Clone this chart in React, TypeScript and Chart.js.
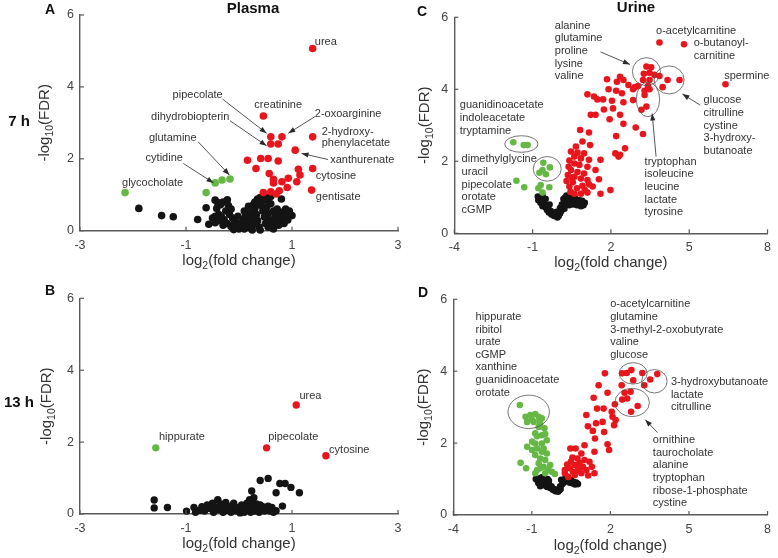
import React, { useEffect, useRef } from "react";
import { Chart, registerables } from "chart.js";
Chart.register(...registerables);

const FONT = '"Liberation Sans", Arial, Helvetica, sans-serif';
const RED = "#e8161c";
const GREEN = "#66b845";
const BLACK = "#141414";
const AXIS = "#5a5a5a";
const TEXT = "#333333";

// ---------- tick labels ----------
const plasmaXTicks = [-3, -1, 1, 3];
const urineXTicks = [-4, -1, 2, 5, 8];
const yTicks = [0, 2, 4, 6];

// ---------- data: [log2 fold change, -log10 FDR] ----------
const plasma7hUp: [number, number][] = [
  [1.39, 5.07], [0.46, 3.19], [0.60, 2.61], [0.81, 2.61], [0.60, 2.41], [0.74, 2.41],
  [1.39, 2.61], [1.06, 2.24], [0.16, 1.96], [0.41, 2.01], [0.55, 2.01], [0.74, 1.94],
  [0.32, 1.73], [0.57, 1.59], [1.12, 1.71], [1.15, 1.55], [1.39, 1.73], [0.65, 1.43],
  [0.81, 1.36], [0.93, 1.46], [0.65, 1.33], [1.09, 1.36], [0.91, 1.20], [0.76, 1.11],
  [0.60, 1.08], [0.46, 1.06], [1.37, 1.13], [0.70, 1.02],
];
const plasma7hDown: [number, number][] = [
  [-2.15, 1.06], [-0.62, 1.06], [-0.45, 1.33], [-0.32, 1.41], [-0.17, 1.44],
];
const plasma7hNs: [number, number][] = [
  [-1.89, 0.62], [-1.46, 0.42], [-1.24, 0.39], [-0.78, 0.31], [-0.62, 0.64], [-0.57, 0.18],
  [-0.45, 0.85], [-0.40, 0.78], [-0.42, 0.62], [-0.35, 0.72], [-0.30, 0.80], [-0.22, 0.86],
  [-0.20, 0.70], [-0.25, 0.55], [-0.38, 0.45], [-0.45, 0.40], [-0.50, 0.35], [-0.33, 0.38],
  [-0.28, 0.30], [-0.40, 0.28], [-0.18, 0.45], [-0.15, 0.60], [-0.12, 0.35], [-0.22, 0.20],
  [-0.30, 0.15], [-0.45, 0.22], [-0.15, 0.12], [-0.08, 0.25], [-0.05, 0.08], [-0.10, 0.03],
  [0.00, 0.05], [0.05, 0.12], [0.02, 0.20], [0.08, 0.30], [0.10, 0.05], [0.15, 0.15],
  [0.12, 0.40], [0.18, 0.25], [0.20, 0.08], [0.22, 0.50], [0.25, 0.35], [0.28, 0.18],
  [0.30, 0.62], [0.33, 0.45], [0.35, 0.28], [0.38, 0.10], [0.30, 0.80], [0.35, 0.88],
  [0.40, 0.92], [0.42, 0.70], [0.45, 0.55], [0.48, 0.38], [0.50, 0.20], [0.45, 0.95],
  [0.50, 0.85], [0.52, 0.65], [0.55, 0.48], [0.58, 0.30], [0.55, 0.92], [0.60, 0.75],
  [0.62, 0.15], [0.65, 0.55], [0.68, 0.40], [0.70, 0.25], [0.72, 0.60], [0.75, 0.45],
  [0.78, 0.30], [0.80, 0.88], [0.82, 0.52], [0.85, 0.38], [0.88, 0.60], [0.90, 0.45],
  [0.95, 0.55], [1.00, 0.42], [0.92, 0.30], [0.85, 0.20], [0.75, 0.15], [0.65, 0.05],
  [0.55, 0.10], [0.40, 0.02], [0.25, 0.02], [0.10, 0.55], [-0.02, 0.40], [0.18, 0.68],
  [0.27, 0.72], [0.38, 0.78], [0.60, 0.95],
];

const plasma13hUp: [number, number][] = [[1.08, 3.03], [0.52, 1.84], [1.64, 1.62]];
const plasma13hDown: [number, number][] = [[-1.57, 1.84]];
const plasma13hNs: [number, number][] = [
  [-1.60, 0.39], [-1.60, 0.17], [-1.35, 0.18], [-0.99, 0.08],
  [-0.85, 0.18], [-0.82, 0.05], [-0.75, 0.10], [-0.70, 0.20], [-0.65, 0.08], [-0.60, 0.25],
  [-0.55, 0.15], [-0.50, 0.30], [-0.48, 0.05], [-0.45, 0.20], [-0.40, 0.40], [-0.38, 0.12],
  [-0.35, 0.28], [-0.30, 0.05], [-0.28, 0.18], [-0.25, 0.32], [-0.22, 0.10], [-0.20, 0.22],
  [-0.15, 0.05], [-0.12, 0.15], [-0.10, 0.30], [-0.05, 0.08], [0.00, 0.18], [0.02, 0.03],
  [0.05, 0.25], [0.08, 0.10], [0.10, 0.05], [0.12, 0.20], [0.15, 0.30], [0.18, 0.12],
  [0.20, 0.40], [0.22, 0.05], [0.25, 0.22], [0.28, 0.15], [0.30, 0.08], [0.33, 0.28],
  [0.35, 0.18], [0.38, 0.05], [0.40, 0.25], [0.42, 0.12], [0.45, 0.20], [0.48, 0.08],
  [0.50, 0.15], [0.55, 0.22], [0.58, 0.08], [0.62, 0.18], [0.65, 0.05], [0.28, 0.45],
  [0.24, 0.64], [0.22, 0.35],
  [0.40, 0.93], [0.55, 0.99], [0.70, 0.59], [0.77, 0.85], [0.87, 0.85], [0.98, 0.74],
  [1.14, 0.59], [0.82, 0.22], [0.70, 0.09],
];

const urine7hUp: [number, number][] = [
  [3.86, 5.30], [4.80, 5.25], [6.39, 4.14], [3.36, 4.63], [3.54, 4.61], [3.48, 4.46],
  [3.26, 4.43], [3.67, 4.40], [3.86, 4.37], [3.23, 4.26], [3.48, 4.26], [4.17, 4.26],
  [4.63, 4.26], [3.98, 4.06], [3.42, 4.09], [3.29, 3.96], [3.48, 4.00], [3.29, 3.84],
  [3.36, 3.52], [3.17, 3.43], [1.85, 4.28], [2.35, 4.35], [2.48, 4.26], [2.23, 4.21],
  [2.67, 4.12], [2.92, 4.06], [3.04, 4.09], [2.85, 4.00], [1.91, 4.00], [2.20, 3.96],
  [2.42, 3.89], [1.10, 3.86], [1.35, 3.80], [1.48, 3.72], [1.70, 3.72], [2.04, 3.68],
  [2.85, 3.70], [2.48, 3.64], [1.73, 3.44], [2.08, 3.47], [2.35, 3.29], [1.23, 3.29],
  [1.41, 3.29], [1.95, 3.17], [2.48, 3.04], [2.95, 2.94], [3.23, 2.76], [2.20, 2.70],
  [2.54, 2.36], [2.17, 2.22], [2.35, 2.18], [2.29, 2.13],
  [0.82, 2.87], [1.16, 2.80], [0.91, 2.55], [0.66, 2.41], [1.20, 2.45], [0.47, 2.27],
  [0.72, 2.24], [0.97, 2.22], [0.60, 2.13], [0.85, 2.08], [1.16, 2.04], [1.60, 2.04],
  [0.41, 2.02], [0.60, 1.94], [0.79, 1.90], [1.10, 1.85], [1.41, 1.76], [0.47, 1.76],
  [0.72, 1.70], [0.97, 1.66], [0.35, 1.62], [0.60, 1.57], [0.85, 1.52], [1.10, 1.48],
  [1.54, 1.50], [1.98, 1.20], [1.60, 1.10], [1.10, 1.13], [0.85, 1.10], [0.60, 1.10],
  [0.41, 1.30], [0.54, 1.42], [0.91, 1.32], [1.16, 1.36], [0.30, 1.45], [0.45, 1.15],
  [0.70, 1.25], [1.00, 1.20], [1.30, 1.30], [0.38, 1.85], [0.50, 1.55],
];
const urine7hDown: [number, number][] = [
  [-1.74, 2.53], [-1.34, 2.45], [-1.19, 2.45], [-0.59, 1.96], [-0.34, 1.83], [-0.62, 1.76],
  [-0.74, 1.68], [-0.49, 1.64], [-1.62, 1.46], [-1.32, 1.28], [-0.69, 1.34], [-0.36, 1.28],
  [-0.78, 1.25], [-0.62, 1.13],
];
const urine7hNs: [number, number][] = [
  [-0.80, 1.02], [-0.72, 1.00], [-0.78, 0.92], [-0.65, 0.95], [-0.70, 0.85], [-0.60, 0.88],
  [-0.55, 0.80], [-0.62, 0.75], [-0.50, 0.72], [-0.45, 0.65], [-0.40, 0.70], [-0.38, 0.58],
  [-0.30, 0.62], [-0.28, 0.52], [-0.20, 0.55], [-0.18, 0.48], [-0.10, 0.50], [-0.05, 0.44],
  [0.00, 0.48], [-0.08, 0.60], [-0.35, 0.80], [-0.50, 0.95], [-0.62, 1.05],
  [0.05, 0.55], [0.10, 0.62], [0.05, 0.70], [0.15, 0.72], [0.12, 0.80], [0.20, 0.85],
  [0.18, 0.95], [0.25, 1.00], [0.30, 0.92], [0.35, 1.02], [0.40, 0.95], [0.28, 0.80],
  [0.35, 0.85], [0.45, 0.88], [0.50, 1.00], [0.55, 0.92], [0.60, 0.85], [0.65, 0.95],
  [0.70, 0.88], [0.75, 0.82], [0.80, 0.92], [0.85, 0.85], [0.90, 0.90], [0.95, 0.78],
  [1.00, 0.85], [0.22, 0.68], [0.40, 0.78], [0.55, 0.80], [0.70, 0.78], [0.85, 0.75],
  [0.30, 1.05], [0.60, 1.03],
];

const urine13hUp: [number, number][] = [
  [2.80, 4.03], [2.62, 3.95], [2.45, 3.94], [3.22, 3.95], [2.87, 3.75], [3.52, 3.77],
  [3.79, 3.92], [3.29, 3.61], [2.43, 3.61], [1.79, 3.94], [1.55, 3.61], [1.89, 3.40],
  [1.36, 3.26], [2.17, 3.08], [2.54, 3.40], [2.77, 3.43], [2.64, 3.24], [2.45, 3.21],
  [3.04, 3.03], [2.79, 2.87], [1.49, 2.96], [1.74, 2.96], [2.05, 2.87], [2.08, 2.73],
  [1.08, 2.78], [2.14, 2.50], [2.20, 2.64], [1.14, 2.47], [1.45, 2.55], [1.70, 2.59],
  [1.33, 2.34], [1.76, 2.31], [1.41, 2.13], [1.01, 1.94], [1.89, 1.97], [1.95, 1.81],
  [0.47, 1.85], [0.67, 1.85], [1.39, 1.76], [0.89, 1.71],
  [0.74, 1.57], [1.01, 1.53], [1.20, 1.48], [0.49, 1.48], [0.64, 1.39], [0.82, 1.45],
  [0.95, 1.34], [1.29, 1.34], [0.26, 1.25], [0.45, 1.30], [0.26, 1.16], [0.57, 1.20],
  [0.76, 1.25], [1.08, 1.25], [1.39, 1.16], [0.39, 1.06], [0.64, 1.11], [0.89, 1.16],
  [0.55, 1.60], [0.35, 1.40], [0.80, 1.30], [1.15, 1.10],
];
const urine13hDown: [number, number][] = [
  [-1.46, 3.06], [-1.24, 2.73], [-1.06, 2.78], [-0.87, 2.81], [-0.74, 2.73], [-0.62, 2.69],
  [-1.18, 2.59], [-0.93, 2.59], [-0.68, 2.55], [-0.52, 2.41], [-0.49, 2.25], [-0.80, 2.19],
  [-0.62, 2.22], [-0.43, 2.08], [-0.99, 2.04], [-0.87, 1.99], [-0.62, 1.99], [-1.18, 1.90],
  [-0.99, 1.81], [-0.80, 1.85], [-0.62, 1.76], [-0.43, 1.71], [-0.87, 1.67], [-0.68, 1.57],
  [-0.49, 1.53], [-1.43, 1.45], [-1.22, 1.30], [-0.74, 1.44], [-0.55, 1.34], [-0.37, 1.25],
  [-0.80, 1.25], [-0.24, 1.20], [-0.49, 1.16], [-0.68, 1.30], [-0.87, 1.16], [-0.12, 1.14],
  [-0.30, 1.39], [-0.55, 1.85], [-0.74, 2.45], [-0.87, 2.27], [-0.70, 2.65], [-1.00, 2.65],
];
const urine13hNs: [number, number][] = [
  [-0.85, 1.00], [-0.78, 0.95], [-0.70, 1.02], [-0.75, 0.88], [-0.65, 0.92], [-0.60, 0.85],
  [-0.68, 0.80], [-0.55, 0.95], [-0.50, 0.82], [-0.45, 0.90], [-0.42, 0.78], [-0.35, 0.85],
  [-0.30, 0.75], [-0.25, 0.80], [-0.20, 0.70], [-0.15, 0.72], [-0.10, 0.66], [-0.05, 0.70],
  [0.00, 0.65], [0.05, 0.68], [0.10, 0.72], [0.08, 0.80], [0.15, 0.85], [0.18, 0.95],
  [0.25, 1.00], [0.22, 0.90], [0.30, 0.95], [0.35, 1.02], [0.40, 0.95], [0.45, 0.90],
  [0.50, 0.97], [0.55, 0.88], [0.60, 0.92], [0.65, 0.85], [0.70, 0.90], [0.76, 0.86],
  [-0.40, 1.00], [-0.62, 1.05], [-0.35, 0.95], [0.12, 0.98],
];

// ---------- annotations (positions in data units) ----------
type Label = { lines: string[]; x: number; y: number; align?: CanvasTextAlign };
type Arrow = [number, number, number, number];
type Ellipse = { x: number; y: number; rx: number; ry: number };

const plasma7hLabels: Label[] = [
  { lines: ["urea"], x: 1.43, y: 5.24 },
  { lines: ["creatinine"], x: 0.74, y: 3.49, align: "center" },
  { lines: ["pipecolate"], x: -0.78, y: 3.77, align: "center" },
  { lines: ["dihydrobiopterin"], x: -0.92, y: 3.16, align: "center" },
  { lines: ["2-oxoarginine"], x: 1.43, y: 3.24 },
  { lines: ["2-hydroxy-", "phenylacetate"], x: 1.56, y: 2.75 },
  { lines: ["xanthurenate"], x: 1.72, y: 1.98 },
  { lines: ["cytosine"], x: 1.45, y: 1.52 },
  { lines: ["gentisate"], x: 1.45, y: 0.94 },
  { lines: ["glutamine"], x: -1.25, y: 2.59, align: "center" },
  { lines: ["cytidine"], x: -1.41, y: 2.01, align: "center" },
  { lines: ["glycocholate"], x: -1.63, y: 1.33, align: "center" },
];
const plasma7hArrows: Arrow[] = [
  [-0.31, 3.66, 0.52, 2.71],
  [-0.17, 3.06, 0.52, 2.36],
  [1.43, 3.17, 0.93, 2.71],
  [1.68, 1.98, 1.18, 2.15],
  [-0.77, 2.47, -0.18, 1.55],
  [-1.05, 1.87, -0.48, 1.33],
];
const plasma13hLabels: Label[] = [
  { lines: ["hippurate"], x: -1.51, y: 2.15 },
  { lines: ["urea"], x: 1.14, y: 3.28 },
  { lines: ["pipecolate"], x: 0.55, y: 2.15 },
  { lines: ["cytosine"], x: 1.70, y: 1.78 },
];
const urine7hLabels: Label[] = [
  { lines: ["alanine", "glutamine", "proline", "lysine", "valine"], x: -0.15, y: 5.77 },
  { lines: ["o-acetylcarnitine"], x: 3.73, y: 5.63 },
  { lines: ["o-butanoyl-", "carnitine"], x: 5.17, y: 5.28 },
  { lines: ["spermine"], x: 6.34, y: 4.37 },
  { lines: ["glucose", "citrulline", "cystine", "3-hydroxy-", "butanoate"], x: 5.55, y: 3.70 },
  { lines: ["tryptophan", "isoleucine", "leucine", "lactate", "tyrosine"], x: 3.29, y: 1.99 },
  { lines: ["guanidinoacetate", "indoleacetate", "tryptamine"], x: -3.79, y: 3.56 },
  { lines: ["dimethylglycine", "uracil", "pipecolate", "orotate", "cGMP"], x: -3.72, y: 2.06 },
];
const urine7hArrows: Arrow[] = [
  [1.60, 5.04, 2.73, 4.69],
  [5.42, 3.56, 4.74, 3.87],
  [3.73, 2.13, 3.58, 3.33],
];
const urine7hEllipses: Ellipse[] = [
  { x: 3.36, y: 4.49, rx: 14, ry: 14 },
  { x: 4.23, y: 4.26, rx: 15, ry: 14 },
  { x: 3.42, y: 3.72, rx: 11.7, ry: 17.3 },
  { x: -1.43, y: 2.48, rx: 16.7, ry: 8.3 },
  { x: -0.44, y: 1.79, rx: 14, ry: 12.3 },
];
const urine13hLabels: Label[] = [
  { lines: ["hippurate", "ribitol", "urate", "cGMP", "xanthine", "guanidinoacetate", "orotate"], x: -3.15, y: 5.51 },
  { lines: ["o-acetylcarnitine", "glutamine", "3-methyl-2-oxobutyrate", "valine", "glucose"], x: 1.99, y: 5.86 },
  { lines: ["3-hydroxybutanoate", "lactate", "citrulline"], x: 4.31, y: 3.70 },
  { lines: ["ornithine", "taurocholate", "alanine", "tryptophan", "ribose-1-phosphate", "cystine"], x: 3.62, y: 2.08 },
];
const urine13hArrows: Arrow[] = [[3.80, 2.29, 3.33, 2.65]];
const urine13hEllipses: Ellipse[] = [
  { x: -1.12, y: 2.87, rx: 20.7, ry: 16.7 },
  { x: 2.87, y: 3.94, rx: 14, ry: 10.7 },
  { x: 3.68, y: 3.72, rx: 12.7, ry: 11.7 },
  { x: 2.83, y: 3.13, rx: 17.3, ry: 14 },
];

// ---------- panel layout ----------
type PanelCfg = {
  box: { x: number; y: number; w: number; h: number };
  area: { l: number; t: number; r: number; b: number };
  xMin: number; xMax: number; xTicks: number[];
  up: [number, number][]; down: [number, number][]; ns: [number, number][];
  labels: Label[]; arrows: Arrow[]; ellipses: Ellipse[];
  lineH: number; radius: number; yTitleOff: number; xTitleOff: number;
  extras: { text: string; x: number; y: number; size: number; align: CanvasTextAlign }[];
};

const panels: PanelCfg[] = [
  {
    box: { x: 0, y: 0, w: 410, h: 279 },
    area: { l: 80, t: 15, r: 398, b: 230.7 },
    xMin: -3, xMax: 3, xTicks: plasmaXTicks,
    up: plasma7hUp, down: plasma7hDown, ns: plasma7hNs,
    labels: plasma7hLabels, arrows: plasma7hArrows, ellipses: [],
    lineH: 11, radius: 3.8, yTitleOff: 31, xTitleOff: 34,
    extras: [
      { text: "A", x: 45, y: 13.5, size: 14, align: "left" },
      { text: "Plasma", x: 253, y: 13, size: 15, align: "center" },
      { text: "7 h", x: 19, y: 125.5, size: 15, align: "center" },
    ],
  },
  {
    box: { x: 0, y: 279, w: 410, h: 279 },
    area: { l: 80, t: 298.3, r: 398, b: 514 },
    xMin: -3, xMax: 3, xTicks: plasmaXTicks,
    up: plasma13hUp, down: plasma13hDown, ns: plasma13hNs,
    labels: plasma13hLabels, arrows: [], ellipses: [],
    lineH: 11, radius: 3.7, yTitleOff: 29, xTitleOff: 34,
    extras: [
      { text: "B", x: 45, y: 295, size: 14, align: "left" },
      { text: "13 h", x: 19, y: 406.7, size: 15, align: "center" },
    ],
  },
  {
    box: { x: 390, y: 0, w: 388, h: 279 },
    area: { l: 454.3, t: 17.3, r: 773, b: 233.3 },
    xMin: -4, xMax: 8, xTicks: urineXTicks,
    up: urine7hUp, down: urine7hDown, ns: urine7hNs,
    labels: urine7hLabels, arrows: urine7hArrows, ellipses: urine7hEllipses,
    lineH: 12.7, radius: 3.3, yTitleOff: 25, xTitleOff: 34,
    extras: [
      { text: "C", x: 417, y: 16, size: 14, align: "left" },
      { text: "Urine", x: 636, y: 12, size: 15, align: "center" },
    ],
  },
  {
    box: { x: 390, y: 279, w: 388, h: 279 },
    area: { l: 453.3, t: 299.3, r: 772.7, b: 515 },
    xMin: -4, xMax: 8, xTicks: urineXTicks,
    up: urine13hUp, down: urine13hDown, ns: urine13hNs,
    labels: urine13hLabels, arrows: urine13hArrows, ellipses: urine13hEllipses,
    lineH: 12.6, radius: 3.3, yTitleOff: 25, xTitleOff: 35,
    extras: [
      { text: "D", x: 418, y: 296.7, size: 14, align: "left" },
    ],
  },
];

function drawArrow(ctx: CanvasRenderingContext2D, x1: number, y1: number, x2: number, y2: number) {
  ctx.beginPath();
  ctx.moveTo(x1, y1);
  ctx.lineTo(x2, y2);
  ctx.stroke();
  const a = Math.atan2(y2 - y1, x2 - x1);
  const L = 7, W = 2.6;
  const bx = x2 - L * Math.cos(a), by = y2 - L * Math.sin(a);
  ctx.beginPath();
  ctx.moveTo(x2, y2);
  ctx.lineTo(bx + W * Math.sin(a), by - W * Math.cos(a));
  ctx.lineTo(bx - W * Math.sin(a), by + W * Math.cos(a));
  ctx.closePath();
  ctx.fill();
}

function makePlugin(cfg: PanelCfg) {
  return {
    id: "volcanoDecor",
    afterDraw(chart: any) {
      const ctx: CanvasRenderingContext2D = chart.ctx;
      const xs = chart.scales.x, ys = chart.scales.y;
      const ca = chart.chartArea;
      const ox = cfg.box.x, oy = cfg.box.y;
      ctx.save();
      // inward ticks
      ctx.strokeStyle = AXIS;
      ctx.lineWidth = 1.2;
      for (const v of cfg.xTicks) {
        const px = xs.getPixelForValue(v);
        ctx.beginPath(); ctx.moveTo(px, ca.bottom); ctx.lineTo(px, ca.bottom - 4); ctx.stroke();
      }
      for (const v of yTicks) {
        const py = ys.getPixelForValue(v);
        ctx.beginPath(); ctx.moveTo(ca.left, py); ctx.lineTo(ca.left + 4, py); ctx.stroke();
      }
      // x title with subscript
      ctx.fillStyle = TEXT;
      ctx.textBaseline = "alphabetic";
      const big = `15px ${FONT}`, sub = `10.5px ${FONT}`;
      ctx.font = big; const a1 = ctx.measureText("log").width; const a3 = ctx.measureText("(fold change)").width;
      ctx.font = sub; const a2 = ctx.measureText("2").width;
      let sx = (ca.left + ca.right) / 2 - (a1 + a2 + a3) / 2;
      const by = ca.bottom + cfg.xTitleOff;
      ctx.textAlign = "left";
      ctx.font = big; ctx.fillText("log", sx, by); sx += a1;
      ctx.font = sub; ctx.fillText("2", sx, by + 4); sx += a2;
      ctx.font = big; ctx.fillText("(fold change)", sx, by);
      // y title
      ctx.save();
      ctx.translate(ca.left - cfg.yTitleOff, (ca.top + ca.bottom) / 2);
      ctx.rotate(-Math.PI / 2);
      ctx.font = big; const b1 = ctx.measureText("-log").width; const b3 = ctx.measureText("(FDR)").width;
      ctx.font = sub; const b2 = ctx.measureText("10").width;
      let ty = -(b1 + b2 + b3) / 2;
      ctx.font = big; ctx.fillText("-log", ty, 0); ty += b1;
      ctx.font = sub; ctx.fillText("10", ty, 4); ty += b2;
      ctx.font = big; ctx.fillText("(FDR)", ty, 0);
      ctx.restore();
      // ellipses
      ctx.strokeStyle = "#555";
      ctx.lineWidth = 0.8;
      for (const e of cfg.ellipses) {
        ctx.beginPath();
        ctx.ellipse(xs.getPixelForValue(e.x), ys.getPixelForValue(e.y), e.rx, e.ry, 0, 0, Math.PI * 2);
        ctx.stroke();
      }
      // arrows
      ctx.strokeStyle = "#2a2a2a";
      ctx.fillStyle = "#2a2a2a";
      ctx.lineWidth = 0.8;
      for (const [x1, y1, x2, y2] of cfg.arrows) {
        drawArrow(ctx, xs.getPixelForValue(x1), ys.getPixelForValue(y1), xs.getPixelForValue(x2), ys.getPixelForValue(y2));
      }
      // labels
      ctx.fillStyle = TEXT;
      ctx.font = `11px ${FONT}`;
      ctx.textBaseline = "middle";
      for (const l of cfg.labels) {
        ctx.textAlign = l.align || "left";
        const px = xs.getPixelForValue(l.x), py = ys.getPixelForValue(l.y);
        l.lines.forEach((s, i) => ctx.fillText(s, px, py + i * cfg.lineH));
      }
      // panel letters, titles, row labels
      ctx.fillStyle = "#111";
      ctx.textBaseline = "alphabetic";
      for (const t of cfg.extras) {
        ctx.font = `bold ${t.size}px ${FONT}`;
        ctx.textAlign = t.align;
        ctx.fillText(t.text, t.x - ox, t.y - oy);
      }
      ctx.restore();
    },
  };
}

function Panel({ cfg }: { cfg: PanelCfg }) {
  const ref = useRef<HTMLCanvasElement>(null);
  useEffect(() => {
    const { box, area } = cfg;
    const toPts = (arr: [number, number][]) => arr.map(([x, y]) => ({ x, y }));
    const ds = (data: [number, number][], color: string) => ({
      data: toPts(data),
      backgroundColor: color,
      borderColor: color,
      borderWidth: 0,
      pointRadius: cfg.radius,
      pointHoverRadius: cfg.radius,
      clip: false as const,
    });
    const yW = area.l - box.x;
    const xH = box.y + box.h - area.b;
    const chart = new Chart(ref.current!, {
      type: "scatter",
      data: { datasets: [ds(cfg.up, RED), ds(cfg.down, GREEN), ds(cfg.ns, BLACK)] },
      options: {
        animation: false,
        responsive: false,
        devicePixelRatio: 1,
        events: [],
        layout: { padding: { left: 0, top: area.t - box.y, right: box.x + box.w - area.r, bottom: 0 } },
        plugins: { legend: { display: false }, tooltip: { enabled: false } },
        scales: {
          x: {
            type: "linear", min: cfg.xMin, max: cfg.xMax,
            afterBuildTicks: (s: any) => { s.ticks = cfg.xTicks.map((v) => ({ value: v })); },
            afterFit: (s: any) => { s.height = xH; },
            grid: { display: false, drawTicks: false },
            border: { display: true, color: AXIS, width: 1.4 },
            ticks: { padding: 7, color: "#444", font: { family: FONT, size: 12.5 } },
          },
          y: {
            type: "linear", min: 0, max: 6,
            afterBuildTicks: (s: any) => { s.ticks = yTicks.map((v) => ({ value: v })); },
            afterFit: (s: any) => { s.width = yW; },
            grid: { display: false, drawTicks: false },
            border: { display: true, color: AXIS, width: 1.4 },
            ticks: { padding: 6, color: "#444", font: { family: FONT, size: 12.5 } },
          },
        },
      },
      plugins: [makePlugin(cfg)],
    } as any);
    return () => chart.destroy();
  }, [cfg]);
  return (
    <canvas
      ref={ref}
      width={cfg.box.w}
      height={cfg.box.h}
      style={{ position: "absolute", left: cfg.box.x, top: cfg.box.y, width: cfg.box.w, height: cfg.box.h }}
    />
  );
}

export default function App() {
  return (
    <div style={{ position: "absolute", left: 0, top: 0, width: 778, height: 558, background: "#fff", overflow: "hidden" }}>
      {panels.map((p, i) => (
        <Panel key={i} cfg={p} />
      ))}
    </div>
  );
}
